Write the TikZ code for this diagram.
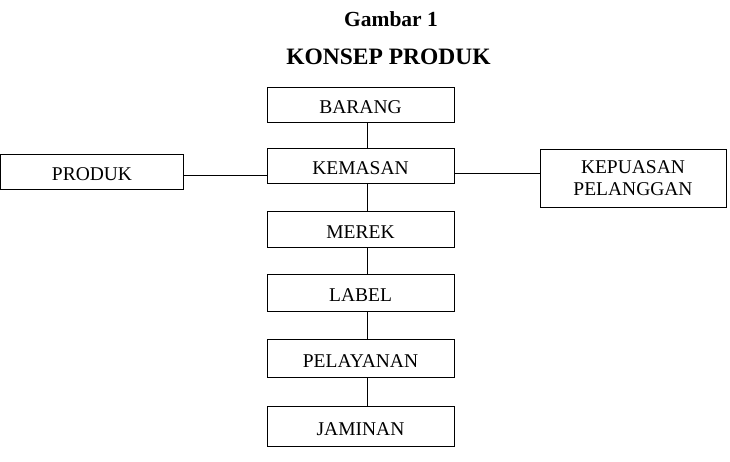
\documentclass[tikz,border=0pt]{standalone}
\usepackage{fontspec}
\setmainfont{Liberation Serif}
\begin{document}
\begin{tikzpicture}[x=1pt,y=-1pt,
  box/.style={draw,line width=0.8pt,inner sep=0pt,minimum width=187pt,font=\fontsize{19.5}{22}\selectfont,text height=18pt,text depth=0pt},
  conn/.style={line width=0.8pt}]
\useasboundingbox (0,0) rectangle (730,462);
\node[anchor=base,font=\fontsize{21.5}{24}\selectfont\bfseries] (t1) at (391,27) {Gambar 1};
\node[anchor=base,font=\fontsize{23.5}{26}\selectfont\bfseries] (t2) at (388.5,65) {KONSEP PRODUK};
\node[box,minimum height=35pt] (barang) at (360.5,104.5) {BARANG};
\node[box,minimum height=35pt] (kemasan) at (360.5,165.5) {KEMASAN};
\node[box,minimum height=36pt] (merek) at (360.5,229) {MEREK};
\node[box,minimum height=37pt] (label) at (360.5,292.5) {LABEL};
\node[box,minimum height=38pt] (pelayanan) at (360.5,358) {PELAYANAN};
\node[box,minimum height=40pt] (jaminan) at (360.5,426) {JAMINAN};
\node[box,minimum width=183pt,minimum height=35pt] (produk) at (92,171.5) {PRODUK};
\node[box,minimum width=186pt,minimum height=58pt,align=center,text height=,text depth=0pt] (kepuasan) at (633,178) {KEPUASAN\\PELANGGAN};
\foreach \a/\b in {barang/kemasan,kemasan/merek,merek/label,label/pelayanan,pelayanan/jaminan}
  \draw[conn] ([xshift=6.5pt]\a.south) -- ([xshift=6.5pt]\b.north);
\draw[conn] ([yshift=-3.5pt]produk.east) -- ([yshift=-3.5pt]produk.east -| kemasan.west);
\draw[conn] ([yshift=-8pt]kemasan.east) -- ([yshift=-8pt]kemasan.east -| kepuasan.west);
\end{tikzpicture}
\end{document}
